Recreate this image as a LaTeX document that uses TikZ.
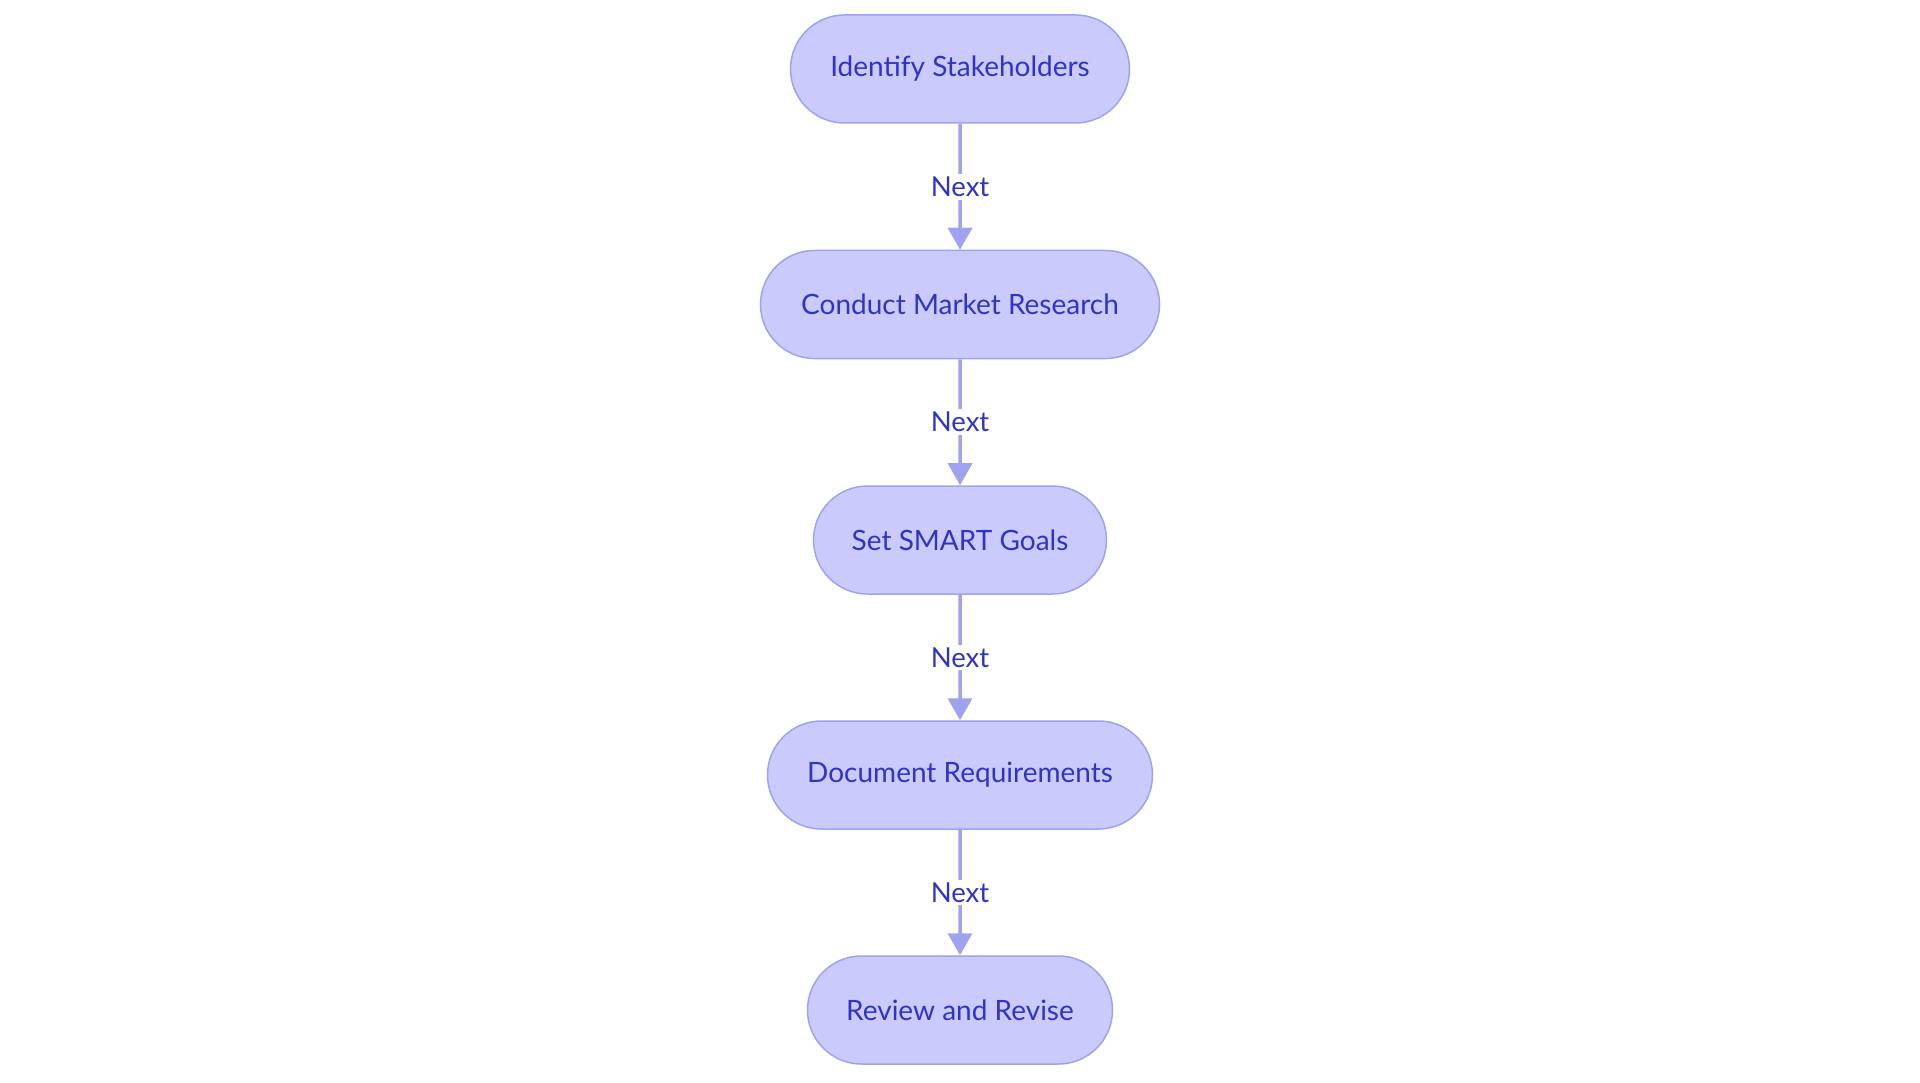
\documentclass[tikz,border=0pt]{standalone}
\usepackage{fontspec}
\setmainfont{Lato}
\usetikzlibrary{arrows.meta,shapes.misc}
\definecolor{boxfill}{HTML}{CACBFC}
\definecolor{boxline}{HTML}{9EA2EF}
\definecolor{txt}{HTML}{2F33CB}
\definecolor{arrowc}{HTML}{9EA2EF}
\tikzset{
  stepbox/.style={rounded rectangle, draw=boxline, line width=1.5pt, fill=boxfill,
    minimum height=108pt, inner xsep=0pt, text=txt, font=\fontsize{28}{32}\selectfont},
  link/.style={draw=arrowc, line width=3.5pt, -{Triangle[length=22pt,width=24pt]}},
  lbl/.style={fill=white, text=txt, font=\fontsize{27.5}{32}\selectfont, inner sep=3pt}
}
\begin{document}
\begin{tikzpicture}[x=1pt,y=-1pt]
\useasboundingbox (0,0) rectangle (1920,1083);
\node[stepbox, minimum width=339pt] (a) at (960,69) {Identify Stakeholders};
\node[stepbox, minimum width=399pt] (b) at (960,304.5) {Conduct Market Research};
\node[stepbox, minimum width=293pt] (c) at (960,540) {Set SMART Goals};
\node[stepbox, minimum width=385pt] (d) at (960,775) {Document Requirements};
\node[stepbox, minimum width=305pt] (e) at (960,1010) {Review and Revise};
\foreach \s/\t in {a/b,b/c,c/d,d/e}{
  \draw[link] (\s) -- node[lbl] {Next} (\t);
}
\end{tikzpicture}
\end{document}
